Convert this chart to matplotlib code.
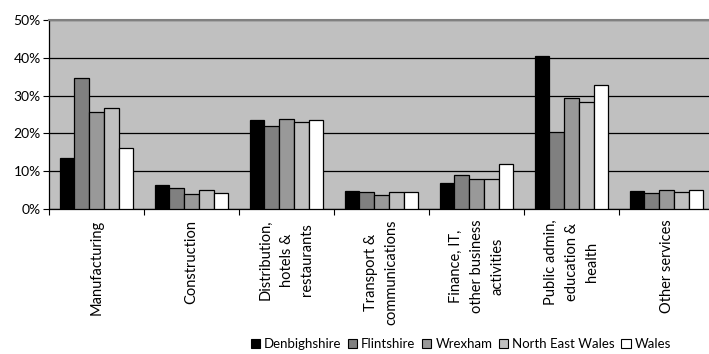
import matplotlib.pyplot as plt
import numpy as np
from matplotlib.patches import Patch

plt.rcParams['font.family'] = ['Lato', 'DejaVu Sans']

sectors = ['Manufacturing', 'Construction', 'Distribution,\nhotels &\nrestaurants',
           'Transport &\ncommunications', 'Finance, IT,\nother business\nactivities',
           'Public admin,\neducation &\nhealth', 'Other services']
areas = ['Denbighshire', 'Flintshire', 'Wrexham', 'North East Wales', 'Wales']

# share of employment by sector (%)
denbighshire = [13.4, 6.4, 23.5, 4.8, 6.9, 40.4, 4.8]
flintshire = [34.7, 5.5, 22.0, 4.5, 9.0, 20.4, 4.2]
wrexham = [25.7, 3.9, 23.8, 3.8, 7.9, 29.3, 5.1]
north_east_wales = [26.7, 5.1, 22.9, 4.5, 7.9, 28.2, 4.5]
wales = [16.2, 4.2, 23.5, 4.5, 11.8, 32.7, 5.1]

series = [denbighshire, flintshire, wrexham, north_east_wales, wales]
colors = ['#000000', '#808080', '#999999', '#c0c0c0', '#ffffff']

fig = plt.figure(figsize=(7.09, 3.54), dpi=100)
ax = fig.add_axes([0.0691, 0.4096, 0.938, 0.534])
ax.set_facecolor('#c0c0c0')

x = np.arange(len(sectors))
w = 0.155
for i, (vals, c) in enumerate(zip(series, colors)):
    ax.bar(x + (i - 2) * w, vals, width=w, color=c, edgecolor='#000000',
           linewidth=0.9, zorder=3)

ax.set_xlim(-0.5, len(sectors) - 0.5)
ax.set_ylim(0, 50)
ax.set_yticks(range(0, 51, 10))
ax.set_yticklabels(['%d%%' % v for v in range(0, 51, 10)], fontsize=10)
ax.yaxis.grid(True, color='#000000', linewidth=0.9, zorder=1)

ax.set_xticks(np.arange(-0.5, len(sectors), 1.0))
ax.set_xticklabels([])
ax.tick_params(axis='x', length=4, width=0.8)
ax.tick_params(axis='y', length=4, width=0.8, pad=2)

for xi, lab in zip(x, sectors):
    ax.text(xi, -2.8, lab, rotation=90, ha='center', va='top',
            multialignment='center', fontsize=10.5, linespacing=1.6)

for side in ['left', 'bottom']:
    ax.spines[side].set_color('#000000')
    ax.spines[side].set_linewidth(0.9)
ax.spines['top'].set_color('#808080')
ax.spines['top'].set_linewidth(1.5)
ax.spines['right'].set_color('#808080')

handles = [Patch(facecolor=c, edgecolor='#000000', linewidth=0.8) for c in colors]
fig.legend(handles, areas, loc='center', bbox_to_anchor=(0.65, 0.027),
           ncol=5, frameon=False, fontsize=9.5, handlelength=0.7,
           handleheight=0.7, handletextpad=0.3, columnspacing=0.5,
           borderpad=0)

fig.savefig('out.png', dpi=100)
